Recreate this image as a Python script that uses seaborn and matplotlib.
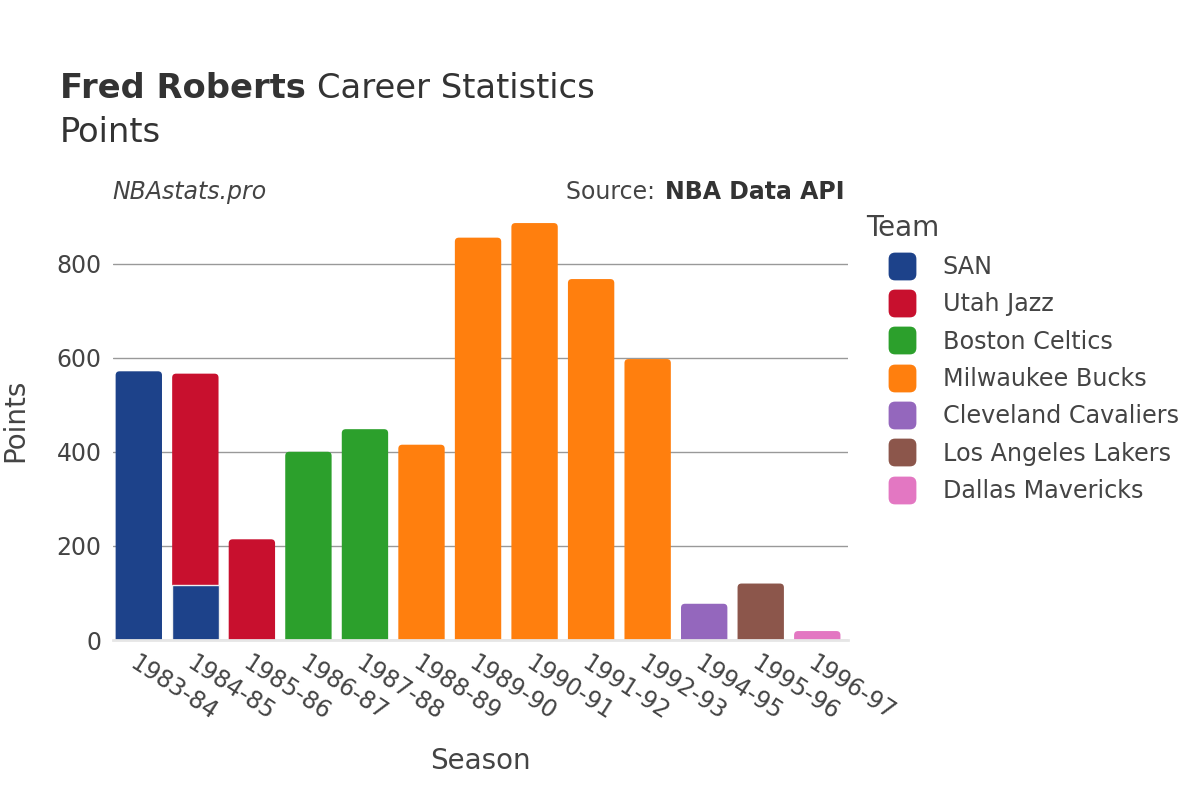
import numpy as np
import pandas as pd
import matplotlib
matplotlib.use('Agg')
import matplotlib.pyplot as plt
from matplotlib.lines import Line2D
from matplotlib.patches import FancyBboxPatch
import seaborn as sns

# data
seasons = ['1983-84', '1984-85', '1984-85', '1985-86', '1986-87', '1987-88', '1988-89',
           '1989-90', '1990-91', '1991-92', '1992-93', '1994-95', '1995-96', '1996-97']
teams = ['SAN', 'SAN', 'Utah Jazz', 'Utah Jazz', 'Boston Celtics', 'Boston Celtics',
         'Milwaukee Bucks', 'Milwaukee Bucks', 'Milwaukee Bucks', 'Milwaukee Bucks',
         'Milwaukee Bucks', 'Cleveland Cavaliers', 'Los Angeles Lakers', 'Dallas Mavericks']
points = [571, 117, 449, 214, 400, 448, 415, 855, 886, 767, 597, 77, 120, 19]

team_order = ['SAN', 'Utah Jazz', 'Boston Celtics', 'Milwaukee Bucks',
              'Cleveland Cavaliers', 'Los Angeles Lakers', 'Dallas Mavericks']
team_colors = ['#1d428a', '#c8102e', '#2ca02c', '#ff7f0e', '#9467bd', '#8c564b', '#e377c2']
season_order = list(dict.fromkeys(seasons))

df = pd.DataFrame({'season': seasons, 'team': teams, 'points': points})
# stacked: top of each segment
df['top'] = df.groupby('season')['points'].cumsum()

sns.set_style('white')
plt.rcParams['font.family'] = ['DejaVu Sans']
txt = '#444444'

fig = plt.figure(figsize=(12, 8), dpi=100)
ax = fig.add_axes([0.094, 0.2, 0.6125, 0.55])

palette = dict(zip(team_order, team_colors))
# draw upper teams first so lower segments sit on top of them
sns.barplot(data=df, x='season', y='top', hue='team', order=season_order,
            hue_order=team_order[::-1], palette=palette, dodge=False,
            width=0.82, legend=False, ax=ax, linewidth=0, saturation=1)

ax.set_ylim(0, 935)
ax.set_xlim(-0.46, len(season_order) - 0.46)

# rounded tops, like the reference
fig.canvas.draw()
ax_w = ax.get_window_extent().width
ax_h = ax.get_window_extent().height
x_per_px = (ax.get_xlim()[1] - ax.get_xlim()[0]) / ax_w
y_per_px = (ax.get_ylim()[1] - ax.get_ylim()[0]) / ax_h
r = 4 * x_per_px
aspect = y_per_px / x_per_px
rects = [p for p in list(ax.patches) if np.isfinite(p.get_height()) and p.get_height() > 0]
tops = {}
for p in rects:
    cx = round(p.get_x() + p.get_width() / 2, 3)
    tops[cx] = max(tops.get(cx, 0), p.get_height())
for z, p in enumerate(rects):
    cx = round(p.get_x() + p.get_width() / 2, 3)
    if p.get_height() < tops[cx]:
        p.set_edgecolor('#f0f0f0')
        p.set_linewidth(1)
        p.set_zorder(3 + z * 0.01)
        continue
    ext = 4 * r * aspect
    fb = FancyBboxPatch((p.get_x(), -ext), p.get_width(), p.get_height() + ext,
                        boxstyle=f'round,pad=0,rounding_size={r}',
                        mutation_aspect=aspect, facecolor=p.get_facecolor(),
                        edgecolor='none', zorder=2 + z * 0.01)
    ax.add_patch(fb)
    p.set_visible(False)

ax.set_yticks([0, 200, 400, 600, 800])
ax.yaxis.grid(True, color='#999999', linewidth=1)
ax.set_axisbelow(True)
for s in ['top', 'right', 'left']:
    ax.spines[s].set_visible(False)
ax.spines['bottom'].set_color('#e6e6e6')
ax.spines['bottom'].set_linewidth(2)
ax.spines['bottom'].set_zorder(5)
ax.tick_params(axis='both', length=0, labelsize=17, colors=txt, pad=8)
plt.setp(ax.get_xticklabels(), rotation=-33, ha='left', rotation_mode='anchor')
ax.set_xlabel('Season', fontsize=20, color=txt, labelpad=16)
ax.set_ylabel('Points', fontsize=20, color=txt, labelpad=20)

# title: bold name + regular rest
t1 = fig.text(0.05, 0.889, 'Fred Roberts', fontsize=24.3, fontweight='bold',
              color='#333333', va='center')
fig.canvas.draw()
bb = t1.get_window_extent()
fig.text(bb.x1 / 1200 + 0.009, 0.889, 'Career Statistics', fontsize=24.3,
         color='#333333', va='center')
fig.text(0.05, 0.834, 'Points', fontsize=24.3, color='#333333', va='center')

fig.text(0.094, 0.76, 'NBAstats.pro', fontsize=17, style='italic', color=txt, va='center')
s2 = fig.text(0.704, 0.76, 'NBA Data API', fontsize=17, fontweight='bold',
              color='#333333', va='center', ha='right')
fig.canvas.draw()
bb2 = s2.get_window_extent()
fig.text(bb2.x0 / 1200 - 0.002, 0.76, 'Source: ', fontsize=17, color=txt,
         va='center', ha='right')

# rounded square legend markers
rsq = FancyBboxPatch((-0.5, -0.5), 1, 1, boxstyle='round,pad=0,rounding_size=0.22').get_path()
handles = [Line2D([0], [0], marker=rsq, linestyle='', markersize=19,
                  markerfacecolor=c, markeredgecolor=c) for c in team_colors]
leg = fig.legend(handles, team_order, loc='upper left', bbox_to_anchor=(0.704, 0.76),
                 frameon=False, fontsize=17.2, title='Team', title_fontsize=20,
                 labelspacing=0.56, handlelength=3.0, handletextpad=0.2,
                 alignment='left')
for t in leg.get_texts():
    t.set_color(txt)
leg.get_title().set_color(txt)

fig.savefig('out.png', dpi=100)
